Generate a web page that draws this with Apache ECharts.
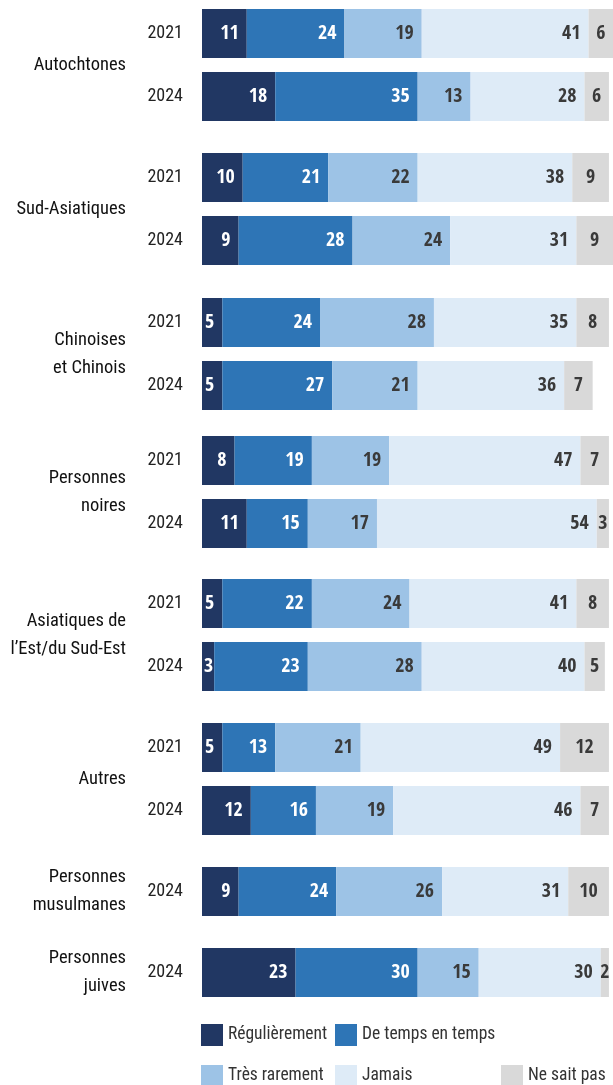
<!DOCTYPE html>
<html>
<head>
<meta charset="UTF-8">
<script src="https://cdn.jsdelivr.net/npm/echarts@6.0.0/dist/echarts.min.js"></script>
<style>
html,body{margin:0;padding:0;background:#fff;}
#chart{width:613px;height:1085px;}
</style>
</head>
<body>
<div id="chart"></div>
<script>
var categories = ['Régulièrement', 'De temps en temps', 'Très rarement', 'Jamais', 'Ne sait pas'];
var groups = ['Autochtones', 'Sud-Asiatiques', 'Chinoises\net Chinois', 'Personnes\nnoires',
  'Asiatiques de\nl’Est/du Sud-Est', 'Autres', 'Personnes\nmusulmanes', 'Personnes\njuives'];
var rowGroup = [0, 0, 1, 1, 2, 2, 3, 3, 4, 4, 5, 5, 6, 7];
var rowYear = ['2021', '2024', '2021', '2024', '2021', '2024', '2021', '2024', '2021', '2024', '2021', '2024', '2024', '2024'];

var regulierement = [11, 18, 10, 9, 5, 5, 8, 11, 5, 3, 5, 12, 9, 23];
var deTemps = [24, 35, 21, 28, 24, 27, 19, 15, 22, 23, 13, 16, 24, 30];
var tresRarement = [19, 13, 22, 24, 28, 21, 19, 17, 24, 28, 21, 19, 26, 15];
var jamais = [41, 28, 38, 31, 35, 36, 47, 54, 41, 40, 49, 46, 31, 30];
var neSaitPas = [6, 6, 9, 9, 8, 7, 7, 3, 8, 5, 12, 7, 10, 2];

var values = [regulierement, deTemps, tresRarement, jamais, neSaitPas];
var colors = ['#213763', '#2e75b6', '#9dc3e6', '#deebf7', '#d9d9d9'];
var labelColors = ['#ffffff', '#ffffff', '#3a3a3a', '#3a3a3a', '#3a3a3a'];

// top of each group's block, in px
var gridTop = [2, 146, 291, 429, 572, 716, 860, 941];
var rowHeight = 63;
var font = "'Roboto Condensed', 'DejaVu Sans Condensed', sans-serif";
var boldFont = "'Open Sans Condensed', 'Roboto Condensed', sans-serif";

var grid = [], xAxis = [], yAxis = [], series = [];
for (var g = 0; g < groups.length; g++) {
  var rows = [];
  for (var r = 0; r < rowGroup.length; r++) {
    if (rowGroup[r] == g) rows.push(r);
  }
  grid.push({left: 202, right: 0, top: gridTop[g], height: rows.length * rowHeight, outerBoundsMode: 'none', containLabel: false});
  xAxis.push({gridIndex: g, type: 'value', min: 0, max: 101, show: false});
  yAxis.push({
    gridIndex: g,
    type: 'category',
    inverse: true,
    data: rows.map(function (r) { return rowYear[r]; }),
    axisLine: {show: false},
    axisTick: {show: false},
    axisLabel: {margin: 19, fontSize: 18, color: '#222', fontFamily: font},
    name: groups[g],
    nameLocation: 'middle',
    nameRotate: 0,
    nameGap: 76,
    nameTextStyle: {align: 'right', verticalAlign: 'middle', fontSize: 18.5, lineHeight: 28, color: '#111', fontFamily: font}
  });
  for (var c = 0; c < categories.length; c++) {
    series.push({
      name: categories[c],
      type: 'bar',
      xAxisIndex: g,
      yAxisIndex: g,
      stack: 'g' + g,
      barWidth: 49,
      data: rows.map(function (r) {
        var v = values[c][r];
        // very thin first segment: keep the number inside the bar
        if (c == 0 && v < 4) return {value: v, label: {distance: 1}};
        return v;
      }),
      itemStyle: {color: colors[c]},
      label: {
        show: true,
        position: c == 4 ? 'inside' : 'insideRight',
        distance: 8,
        color: labelColors[c],
        fontSize: 20,
        fontWeight: 'bold',
        fontFamily: boldFont
      }
    });
  }
}

function legend(names, left, top) {
  return {
    data: names,
    orient: 'vertical',
    left: left,
    top: top,
    height: 90,
    padding: 0,
    itemGap: 19,
    itemWidth: 22,
    itemHeight: 22,
    icon: 'rect',
    textStyle: {fontSize: 17.5, color: '#333', fontFamily: font}
  };
}

var myChart = echarts.init(document.getElementById('chart'));
myChart.setOption({
  animation: false,
  textStyle: {fontFamily: font},
  grid: grid,
  xAxis: xAxis,
  yAxis: yAxis,
  legend: [
    legend(['Régulièrement', 'Très rarement'], 201, 1024),
    legend(['De temps en temps', 'Jamais'], 335, 1024),
    legend(['Ne sait pas'], 501, 1065)
  ],
  series: series
});
</script>
</body>
</html>
